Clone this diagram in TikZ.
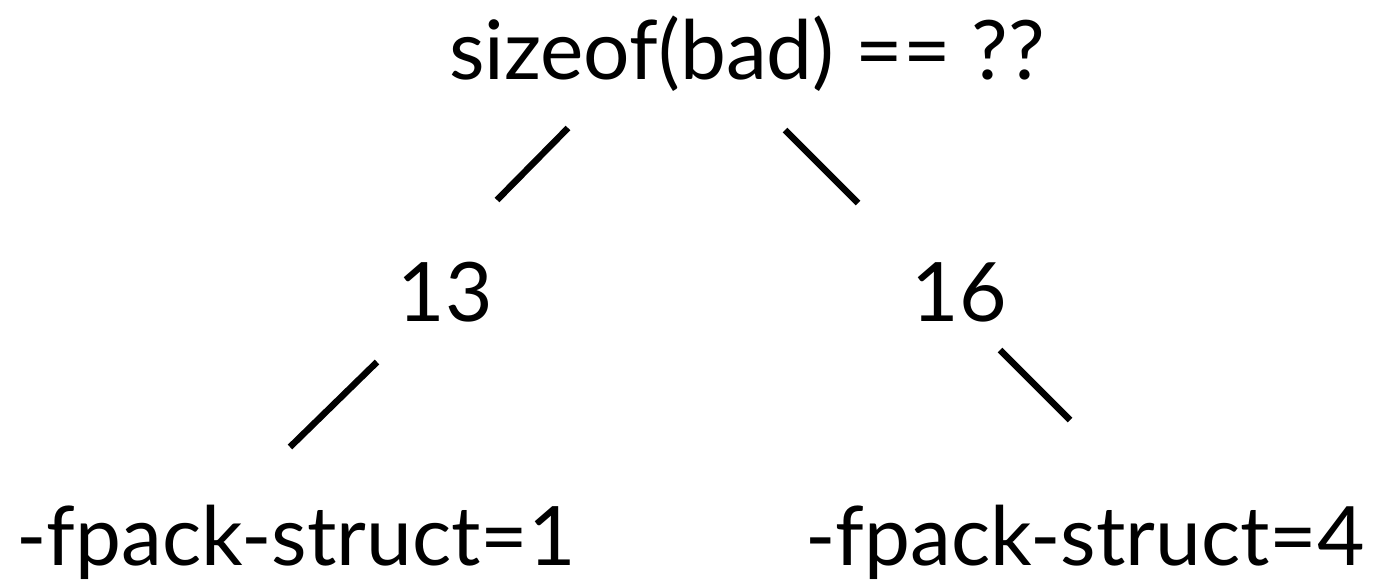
\documentclass[tikz,border=0pt]{standalone}
\usepackage{fontspec}
\setmainfont{Lato}
\begin{document}
\begin{tikzpicture}[x=1pt,y=-1pt,
  lbl/.style={inner sep=0pt,anchor=base,font=\fontsize{82}{98}\selectfont},
  edge/.style={line width=6.5pt,line cap=butt}]
\useasboundingbox (0,0) rectangle (1395,584);
% tree labels
\node[lbl] (root) at (747,79) {sizeof(bad) == ??};
\node[lbl] (n13) at (445,321) {13};
\node[lbl] (n16) at (959,321) {16};
\node[lbl] (p1) at (296,565) {-fpack-struct=1};
\node[lbl] (p4) at (1085,565) {-fpack-struct=4};
% branch end points
\coordinate (a1) at (568,128); \coordinate (a2) at (497,200);
\coordinate (b1) at (785,130); \coordinate (b2) at (858,203);
\coordinate (c1) at (377,362); \coordinate (c2) at (290,447);
\coordinate (d1) at (1000,350); \coordinate (d2) at (1070,420);
\draw[edge] (a1) -- (a2);
\draw[edge] (b1) -- (b2);
\draw[edge] (c1) -- (c2);
\draw[edge] (d1) -- (d2);
\end{tikzpicture}
\end{document}
